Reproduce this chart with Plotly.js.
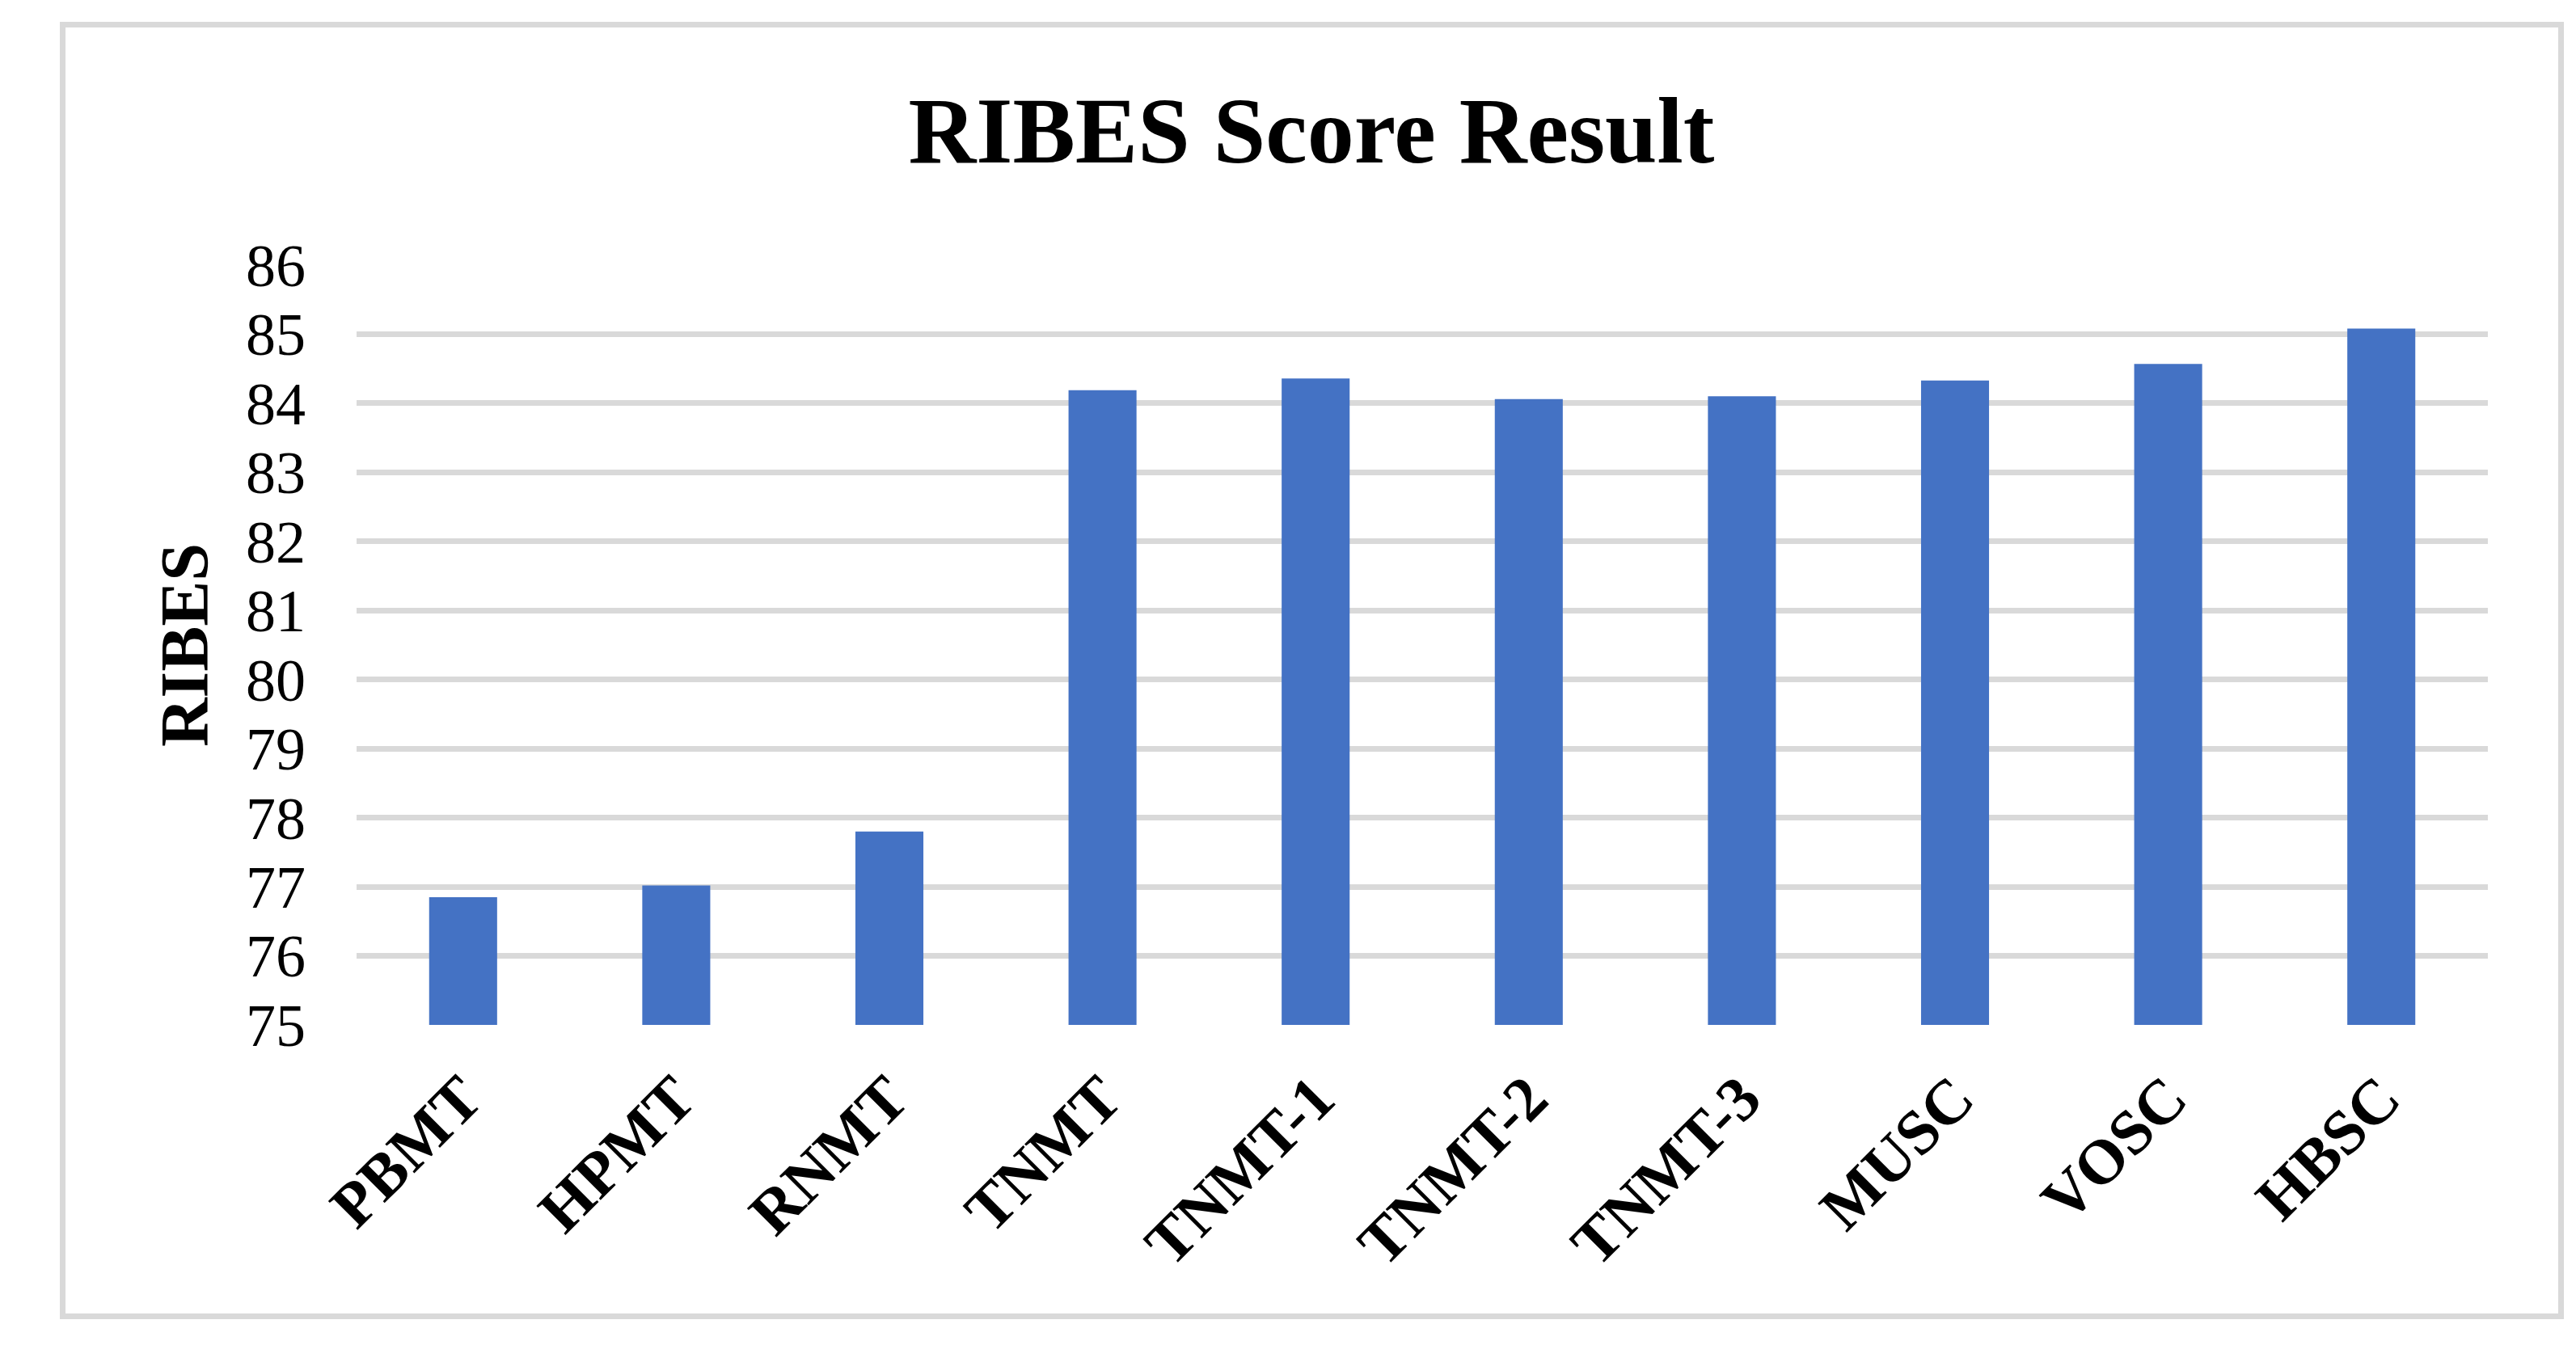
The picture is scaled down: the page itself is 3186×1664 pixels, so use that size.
<!DOCTYPE html>
<html>
<head>
<meta charset="utf-8">
<script src="https://cdn.plot.ly/plotly-3.0.1.min.js"></script>
<style>
    html, body { margin: 0; padding: 0; background: #ffffff; }
    #chart { position: absolute; left: 0; top: 0; width: 3186px; height: 1664px; }
    #frame {
        position: absolute; left: 74px; top: 27px; width: 3097px; height: 1605px;
        box-sizing: border-box; border: 7px solid #d9d9d9; pointer-events: none;
    }
</style>
</head>
<body>
<div id="chart"></div>
<div id="frame"></div>
<script>
const systems = ["PBMT", "HPMT", "RNMT", "TNMT", "TNMT-1", "TNMT-2", "TNMT-3", "MUSC", "VOSC", "HBSC"];
const ribes_scores = [76.85, 77.02, 77.80, 84.19, 84.36, 84.06, 84.10, 84.33, 84.57, 85.08];
const y_ticks = [75, 76, 77, 78, 79, 80, 81, 82, 83, 84, 85, 86];

const serif = '"Liberation Serif", "Times New Roman", serif';

var trace1 = {
    x: systems,
    y: ribes_scores,
    type: 'bar',
    marker: {
        color: '#4472C4',
        line: {width: 0}
    },
    hoverinfo: 'x+y'
};

var layout = {
    title: {
        text: '<b>RIBES Score Result</b>',
        font: {family: serif, size: 116, color: '#000000'},
        xref: 'container',
        yref: 'container',
        x: 1622 / 3186,
        xanchor: 'center',
        y: 1 - 160 / 1664,
        yanchor: 'middle'
    },
    showlegend: false,
    autosize: false,
    width: 3186,
    height: 1664,
    margin: {l: 441, r: 109, t: 328, b: 396, pad: 0},
    paper_bgcolor: '#ffffff',
    plot_bgcolor: '#ffffff',
    bargap: 0.681,
    xaxis: {
        type: 'category',
        tickangle: -45,
        tickfont: {family: serif, size: 78, color: '#000000', weight: 'bold'},
        ticks: '',
        ticklabelstandoff: 28,
        showgrid: false,
        zeroline: false,
        showline: false
    },
    yaxis: {
        range: [75, 86],
        tickvals: y_ticks,
        tickfont: {family: serif, size: 74, color: '#000000'},
        ticks: '',
        ticklabelstandoff: 62,
        showgrid: true,
        gridcolor: '#d9d9d9',
        gridwidth: 7,
        zeroline: false,
        showline: false,
        title: {
            text: '<b>RIBES</b>',
            font: {family: serif, size: 84, color: '#000000'},
            standoff: 18
        }
    }
};

Plotly.newPlot('chart', [trace1], layout, {staticPlot: true});
</script>
</body>
</html>
